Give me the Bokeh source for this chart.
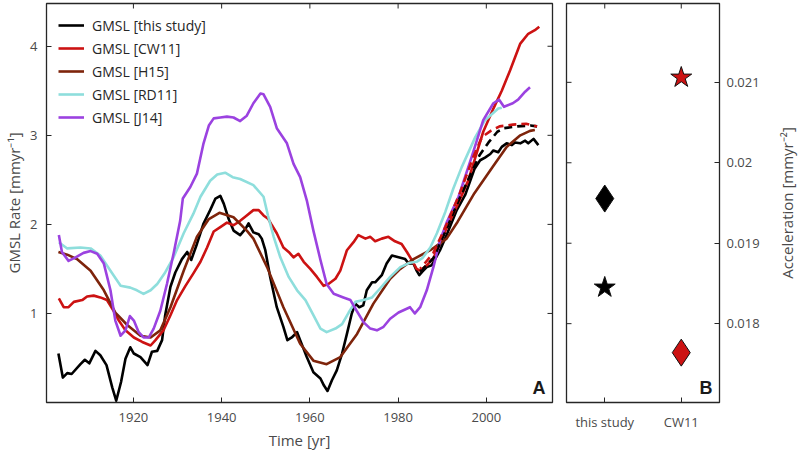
import math
from bokeh.plotting import figure
from bokeh.layouts import row
from bokeh.models import (Range1d, FactorRange, FixedTicker, Label, NumeralTickFormatter,
                          ColumnDataSource)
from bokeh.embed import file_html
from bokeh.resources import INLINE

# ---------------- data ----------------
yr_this = [1903, 1904, 1905, 1906, 1908, 1909, 1910, 1911.4, 1912.5, 1913.9, 1915.2, 1916.1,
           1917.2, 1918.2, 1919.3, 1920.1, 1921.6, 1922.3, 1923.2, 1924.2, 1925.4, 1926.5,
           1927.2, 1928.4, 1929.5, 1931, 1932.2, 1933.1, 1934.4, 1935.9, 1937.4, 1938.6,
           1939.7, 1940.5, 1941.6, 1942.7, 1944.2, 1945.4, 1946.1, 1947.2, 1948.4, 1949.1,
           1949.9, 1951, 1952.5, 1954, 1954.9, 1955.9, 1957.1, 1957.8, 1959.3, 1960.8,
           1962.4, 1963.2, 1964, 1965, 1966.1, 1967.3, 1968.4, 1969.5, 1970.3, 1971.2,
           1972.1, 1972.9, 1974.1, 1974.8, 1976.3, 1977.4, 1978.6, 1980.1, 1981.6, 1982.4,
           1983.5, 1984.2, 1984.8, 1985.5, 1986.5, 1987.6, 1989.5, 1991, 1993.3, 1995.2,
           1997.3, 1998.6, 1999.7, 2000.9, 2001.6, 2002.7, 2003.5, 2004.6, 2005.8, 2006.5,
           2007.7, 2008.8, 2009.5, 2010.7, 2011.8]
rate_this = [0.55, 0.28, 0.33, 0.32, 0.43, 0.48, 0.44, 0.58, 0.53, 0.42, 0.17, 0.02,
             0.23, 0.49, 0.62, 0.55, 0.51, 0.47, 0.42, 0.57, 0.58, 0.70,
             0.98, 1.30, 1.46, 1.61, 1.69, 1.60, 1.78, 2.01, 2.16, 2.29,
             2.32, 2.23, 2.06, 1.93, 1.88, 1.95, 2.01, 1.91, 1.89, 1.84,
             1.71, 1.41, 1.07, 0.85, 0.70, 0.73, 0.79, 0.70, 0.51, 0.34,
             0.27, 0.19, 0.13, 0.25, 0.36, 0.55, 0.77, 1.00, 1.11, 1.07,
             1.09, 1.26, 1.35, 1.35, 1.43, 1.56, 1.65, 1.63, 1.61, 1.56,
             1.56, 1.48, 1.43, 1.47, 1.52, 1.54, 1.71, 1.88, 2.16, 2.33,
             2.62, 2.72, 2.75, 2.79, 2.83, 2.81, 2.87, 2.91, 2.89, 2.92,
             2.91, 2.94, 2.91, 2.96, 2.89]

yr_this_alt = [1985, 1988, 1991, 1994, 1997, 1998.5, 2000.5, 2002.5, 2004, 2007, 2010, 2011.5]
rate_this_alt = [1.47, 1.62, 1.95, 2.30, 2.62, 2.78, 2.92, 3.04, 3.08, 3.10, 3.11, 3.10]

yr_cw11 = [1903.1, 1904.2, 1905.3, 1906.5, 1908.4, 1909.5, 1911, 1912.5, 1914, 1915.5,
           1916.7, 1918.2, 1920.1, 1922, 1923.9, 1925, 1926.8, 1928.4, 1929.9, 1931.8,
           1933.6, 1935.2, 1936.7, 1938.2, 1939.7, 1941.2, 1942.7, 1944.2, 1945.7, 1947.2,
           1948.4, 1949.5, 1950.6, 1951.4, 1952.5, 1954, 1955.2, 1956.3, 1957.4, 1958.6,
           1960.1, 1961.6, 1963.1, 1964.2, 1965.8, 1966.9, 1968.4, 1969.9, 1971, 1972.6,
           1973.7, 1974.8, 1976.3, 1977.8, 1979.3, 1980.8, 1982, 1983.1, 1984.2, 1985,
           1986.5, 1988, 1989.1, 1991, 1993.3, 1995.8, 1997.5, 1999.3, 2001.6, 2003.5,
           2005.4, 2007.7, 2009.5, 2011, 2012]
rate_cw11 = [1.17, 1.07, 1.07, 1.13, 1.15, 1.19, 1.20, 1.18, 1.15, 1.03,
             0.92, 0.81, 0.73, 0.68, 0.64, 0.70, 0.81, 0.98, 1.15, 1.31,
             1.45, 1.58, 1.74, 1.92, 1.97, 2.02, 1.99, 2.04, 2.10, 2.16,
             2.16, 2.10, 2.06, 1.99, 1.90, 1.74, 1.69, 1.63, 1.67, 1.58,
             1.50, 1.41, 1.31, 1.33, 1.39, 1.48, 1.71, 1.80, 1.88, 1.84,
             1.86, 1.81, 1.84, 1.86, 1.81, 1.78, 1.69, 1.60, 1.50, 1.48,
             1.54, 1.62, 1.74, 1.96, 2.20, 2.48, 2.75, 3.04, 3.30, 3.50,
             3.73, 4.03, 4.14, 4.18, 4.22]

yr_cw11_alt = [1985, 1988, 1991, 1994, 1997, 1999, 2001, 2003, 2006, 2009, 2011.5]
rate_cw11_alt = [1.50, 1.68, 2.00, 2.35, 2.75, 2.98, 3.05, 3.10, 3.12, 3.13, 3.10]

yr_h15 = [1903, 1905, 1907.2, 1910.3, 1913.3, 1915.9, 1918.6, 1921.6, 1923.9, 1926.1,
          1928.4, 1931.4, 1934.4, 1937.1, 1939.5, 1942.7, 1945.7, 1947.2, 1950.3, 1954,
          1957.8, 1960.8, 1963.8, 1966.9, 1970.7, 1974.4, 1978.2, 1980.5, 1983.5, 1987.3,
          1991, 1993.5, 1997.3, 2001.5, 2004.6, 2007.7, 2009.9, 2011]
rate_h15 = [1.69, 1.66, 1.61, 1.48, 1.26, 1.01, 0.87, 0.75, 0.73, 0.81,
            1.07, 1.48, 1.86, 2.06, 2.13, 2.08, 1.93, 1.84, 1.52, 1.07,
            0.66, 0.47, 0.43, 0.51, 0.77, 1.11, 1.39, 1.50, 1.61, 1.71,
            1.84, 2.03, 2.35, 2.65, 2.87, 3.00, 3.05, 3.06]

yr_rd11 = [1903.1, 1905, 1908, 1910.3, 1912.5, 1914.8, 1917.1, 1919.3, 1920.8, 1922.3,
           1923.9, 1925.4, 1927.2, 1929.1, 1931.4, 1933.6, 1935.2, 1937.4, 1939, 1940.8,
           1942.5, 1944.2, 1947.2, 1949.5, 1950.5, 1951.8, 1953.3, 1955.2, 1957.1, 1959,
           1960.8, 1962.4, 1963.8, 1965.8, 1967.3, 1968.8, 1970.3, 1972.2, 1974.1, 1975.9,
           1978.2, 1980.5, 1982.7, 1984.2, 1985.5, 1987.3, 1988.8, 1990.7, 1992.5, 1994.4,
           1997.5, 1999.7, 2002.7, 2003.5]
rate_rd11 = [1.80, 1.73, 1.74, 1.73, 1.65, 1.48, 1.31, 1.29, 1.26, 1.22,
             1.26, 1.33, 1.46, 1.63, 1.90, 2.12, 2.31, 2.49, 2.56, 2.58,
             2.53, 2.51, 2.44, 2.31, 2.10, 1.86, 1.63, 1.41, 1.26, 1.15,
             0.98, 0.83, 0.79, 0.83, 0.88, 1.01, 1.13, 1.15, 1.18, 1.28,
             1.41, 1.52, 1.57, 1.58, 1.62, 1.74, 1.90, 2.14, 2.40, 2.64,
             2.98, 3.17, 3.30, 3.31]

yr_j14 = [1903.1, 1903.8, 1905.3, 1906.9, 1908.7, 1910.3, 1911.8, 1913.3, 1914.8, 1915.9,
          1917.1, 1918.2, 1919.2, 1920.1, 1921.2, 1922.3, 1923.5, 1924.6, 1926.1, 1927.6,
          1929.1, 1930.6, 1931.2, 1932.9, 1934.4, 1935.9, 1937.1, 1938.2, 1939.7, 1941.2,
          1942.7, 1944.2, 1945.7, 1947.2, 1948.8, 1949.5, 1951, 1952.5, 1954.8, 1956.3,
          1957.8, 1959.3, 1960.8, 1962.4, 1963.8, 1965.4, 1967.6, 1969.2, 1970.6, 1972.2,
          1973.7, 1975.2, 1976.7, 1978.2, 1980.1, 1982.7, 1983.8, 1985, 1986.5, 1988,
          1989.5, 1991, 1993.7, 1996.7, 1999.3, 2001.6, 2002.9, 2004, 2006, 2007.2,
          2008.8, 2009.9]
rate_j14 = [1.88, 1.69, 1.59, 1.63, 1.68, 1.70, 1.67, 1.56, 1.26, 0.92,
            0.75, 0.81, 0.97, 0.92, 0.79, 0.73, 0.73, 0.83, 1.03, 1.33,
            1.67, 2.04, 2.29, 2.42, 2.57, 2.91, 3.11, 3.19, 3.20, 3.21,
            3.20, 3.16, 3.22, 3.36, 3.47, 3.46, 3.32, 3.08, 2.91, 2.68,
            2.53, 2.27, 1.93, 1.60, 1.33, 1.22, 1.18, 1.15, 1.03, 0.90,
            0.83, 0.81, 0.85, 0.94, 1.01, 1.07, 1.00, 1.07, 1.26, 1.52,
            1.82, 2.02, 2.31, 2.76, 3.17, 3.36, 3.40, 3.32, 3.36, 3.40,
            3.49, 3.54]

year_ticks = [1920, 1940, 1960, 1980, 2000]
rate_ticks = [1, 2, 3, 4]

studies = ["this study", "CW11"]
acc_star = [0.01845, 0.02106]
acc_diamond = [0.019555, 0.01764]
acc_ticks = [0.018, 0.019, 0.020, 0.021]

# ---------------- styling ----------------
FONT = "Open Sans"
AXC = "#262626"
TXT = "#4a4a4a"
C_THIS = "#000000"
C_CW11 = "#CC1212"
C_H15 = "#7E240B"
C_RD11 = "#8EDEDC"
C_J14 = "#9B42E0"

XA0, XA1 = 1900.3, 2015.0
YA0, YA1 = 0.0, 4.48
YB0, YB1 = 0.01702, 0.02198
H = 454
BT, BB = 3, 52


def style_axis(ax):
    ax.axis_line_color = None
    ax.major_tick_in = 5
    ax.major_tick_out = 0
    ax.major_tick_line_color = AXC
    ax.major_tick_line_width = 1
    ax.minor_tick_line_color = None
    ax.major_label_text_font = FONT
    ax.major_label_text_font_size = "13px"
    ax.major_label_text_color = TXT
    ax.axis_label_text_font = FONT
    ax.axis_label_text_font_size = "15px"
    ax.axis_label_text_font_style = "normal"
    ax.axis_label_text_color = TXT


# ---------------- panel A ----------------
pA = figure(width=559, height=H, x_range=Range1d(XA0, XA1), y_range=Range1d(YA0, YA1),
            output_backend="svg", toolbar_location=None,
            min_border_left=46, min_border_right=7, min_border_top=BT, min_border_bottom=BB)
pA.grid.visible = False
pA.outline_line_color = AXC
pA.outline_line_width = 1.3
pA.xaxis.ticker = FixedTicker(ticks=year_ticks)
pA.yaxis.ticker = FixedTicker(ticks=rate_ticks)
pA.xaxis.axis_label = "Time [yr]"
pA.yaxis.axis_label = "GMSL Rate [mmyr\u207b\u00b9]"
style_axis(pA.xaxis[0])
style_axis(pA.yaxis[0])
pA.xaxis.major_label_standoff = 10
pA.xaxis.axis_label_standoff = 5
pA.yaxis.major_label_standoff = 9
pA.yaxis.axis_label_standoff = 3

# mirrored inner ticks on the top and right edges
pA.ray(x=year_ticks, y=[YA1] * len(year_ticks), length=5, length_units="screen",
       angle=-math.pi / 2, line_color=AXC, line_width=1)
pA.ray(x=[XA1] * len(rate_ticks), y=rate_ticks, length=5, length_units="screen",
       angle=math.pi, line_color=AXC, line_width=1)

LW = 2.6
pA.line(yr_this, rate_this, color=C_THIS, line_width=LW, line_join="round",
        legend_label="GMSL [this study]")
pA.line(yr_cw11, rate_cw11, color=C_CW11, line_width=LW, line_join="round",
        legend_label="GMSL [CW11]")
pA.line(yr_h15, rate_h15, color=C_H15, line_width=LW, line_join="round",
        legend_label="GMSL [H15]")
pA.line(yr_rd11, rate_rd11, color=C_RD11, line_width=LW, line_join="round",
        legend_label="GMSL [RD11]")
pA.line(yr_j14, rate_j14, color=C_J14, line_width=LW, line_join="round",
        legend_label="GMSL [J14]")
pA.line(yr_this_alt, rate_this_alt, color=C_THIS, line_width=LW, line_dash="8 5")
pA.line(yr_cw11_alt, rate_cw11_alt, color=C_CW11, line_width=LW, line_dash="8 5",
        line_dash_offset=6)

lg = pA.legend[0]
lg.location = "top_left"
lg.border_line_color = None
lg.background_fill_alpha = 0
lg.label_text_font = FONT
lg.label_text_font_size = "14px"
lg.label_text_color = "#262626"
lg.glyph_width = 26
lg.glyph_height = 20
lg.label_height = 20
lg.spacing = 3
lg.label_standoff = 8
lg.margin = 12
lg.padding = 12

pA.add_layout(Label(x=XA1, y=YA0, x_offset=-7, y_offset=5, text="A",
                    text_align="right", text_baseline="bottom",
                    text_font="Liberation Sans", text_font_style="bold",
                    text_font_size="18px", text_color="#1a1a1a"))

# ---------------- panel B ----------------
pB = figure(width=215, height=H, x_range=FactorRange(factors=studies),
            y_range=Range1d(YB0, YB1), y_axis_location="right",
            output_backend="svg", toolbar_location=None,
            min_border_left=7, min_border_right=55, min_border_top=BT, min_border_bottom=BB)
pB.grid.visible = False
pB.outline_line_color = AXC
pB.outline_line_width = 1.3
pB.yaxis.ticker = FixedTicker(ticks=acc_ticks)
pB.yaxis.formatter = NumeralTickFormatter(format="0.[000]")
style_axis(pB.xaxis[0])
style_axis(pB.yaxis[0])
pB.xaxis.major_label_standoff = 10
pB.yaxis.major_label_standoff = 7

pB.ray(x=studies, y=[YB1] * len(studies), length=5, length_units="screen",
       angle=-math.pi / 2, line_color=AXC, line_width=1)
pB.ray(x=[0] * len(acc_ticks), y=acc_ticks, length=5, length_units="screen",
       angle=0, line_color=AXC, line_width=1)

src_star = ColumnDataSource(dict(x=studies, y=acc_star, fill=[C_THIS, C_CW11]))
src_dia = ColumnDataSource(dict(x=studies, y=acc_diamond, fill=[C_THIS, C_CW11]))
pB.scatter("x", "y", source=src_dia, marker="diamond", size=27,
           fill_color="fill", line_color="#111111", line_width=1)
pB.scatter("x", "y", source=src_star, marker="star", size=22,
           fill_color="fill", line_color="#111111", line_width=1)

pB.add_layout(Label(x=2, y=YB0, x_offset=-7, y_offset=5, text="B",
                    text_align="right", text_baseline="bottom",
                    text_font="Liberation Sans", text_font_style="bold",
                    text_font_size="18px", text_color="#1a1a1a"))

# ---------------- right axis title (reads bottom to top) ----------------
pT = figure(width=24, height=H, x_range=Range1d(0, 1), y_range=pB.y_range,
            output_backend="svg", toolbar_location=None,
            min_border_left=0, min_border_right=0, min_border_top=BT, min_border_bottom=BB)
pT.axis.visible = False
pT.grid.visible = False
pT.outline_line_color = None
pT.add_layout(Label(x=0.5, y=(YB0 + YB1) / 2, text="Acceleration [mmyr\u207b\u00b2]",
                    angle=math.pi / 2, text_align="center", text_baseline="middle",
                    text_font=FONT, text_font_size="15px", text_color=TXT))

layout = row(pA, pB, pT)
open("out.html", "w").write(file_html(layout, INLINE))
